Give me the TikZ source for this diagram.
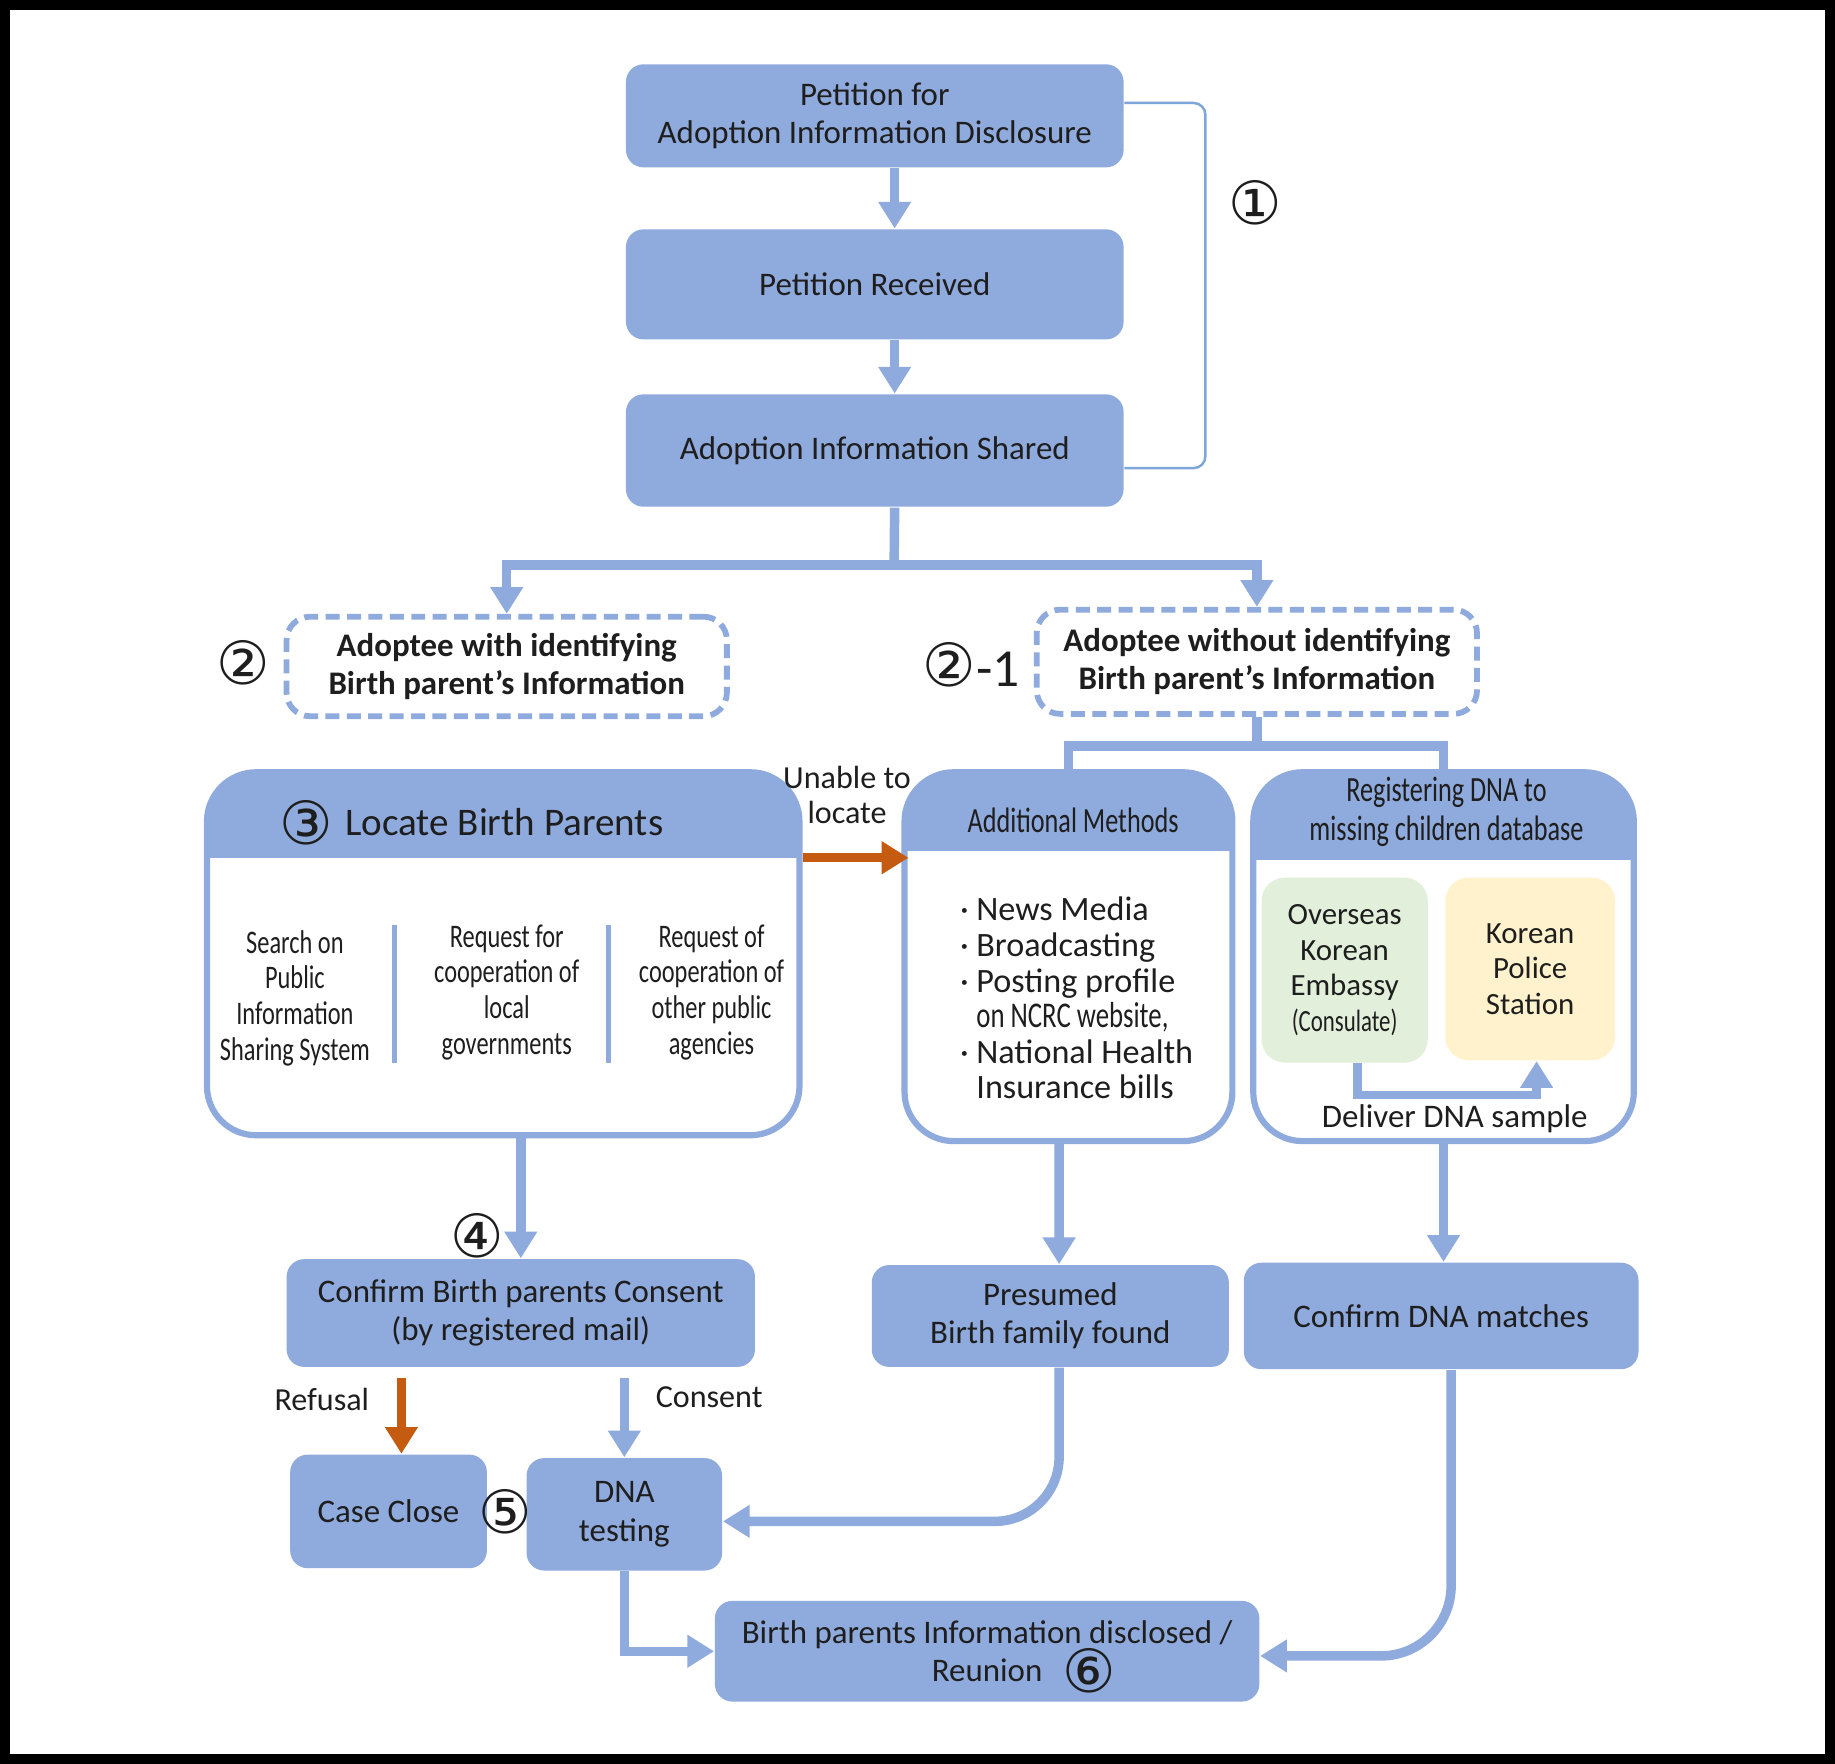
\documentclass[tikz,border=0pt]{standalone}
\usepackage{fontspec}
\setmainfont{Carlito}
\newfontfamily\narrowfont[FakeStretch=0.74]{Carlito}
\newfontfamily\symfont{DejaVu Sans}
\usetikzlibrary{positioning,calc,arrows.meta}
\definecolor{boxblue}{HTML}{8FAADC}
\definecolor{arrorange}{HTML}{C55A11}
\definecolor{embgreen}{HTML}{E2EFDA}
\definecolor{polyellow}{HTML}{FFF2CC}
\definecolor{brkblue}{HTML}{7FA6D8}
\definecolor{txt}{HTML}{1E1E1E}

\begin{document}
\begin{tikzpicture}[x=0.01cm,y=-0.01cm,
    every node/.style={text=txt},
    blok/.style={fill=boxblue, rounded corners=0.15cm, align=center, inner sep=0pt,
        font=\fontsize{8}{9.3}\selectfont},
    dashbox/.style={draw=boxblue, line width=1.4pt, dash pattern=on 3.4pt off 1.8pt,
        rounded corners=0.2cm, fill=white, align=center, inner sep=0pt,
        font=\bfseries\fontsize{8}{9.3}\selectfont},
    panel/.style={draw=boxblue, line width=1.5pt, fill=white, rounded corners=0.42cm, inner sep=0pt,
        path picture={\fill[boxblue, sharp corners] (path picture bounding box.north west)
            rectangle ([yshift=-#1]path picture bounding box.north east);}},
    soft/.style={rounded corners=0.2cm, inner sep=0pt, align=center,
        font=\fontsize{7.5}{8.6}\selectfont},
    flow/.style={draw=boxblue, line width=2.3pt, -{Triangle[length=6.5pt,width=7.6pt]}},
    oflow/.style={draw=arrorange, line width=2.3pt, -{Triangle[length=6.5pt,width=7.6pt]}},
    link/.style={draw=boxblue, line width=2.3pt},
    num/.style={font=\symfont\fontsize{14.5}{14.5}\selectfont, inner sep=0pt},
    lbl/.style={font=\fontsize{7.8}{8.4}\selectfont, align=center, inner sep=0pt},
    cols/.style={font=\narrowfont\fontsize{8}{8.7}\selectfont, align=center, inner sep=0pt},
]
    % Frame
    \fill[black] (0,0) rectangle (1568,1507);
    \fill[white] (8.5,8.5) rectangle (1559.5,1499);

    % Step 1: petition
    \node[blok, minimum width=4.25cm, minimum height=0.88cm] (pet) at (747.5,99) {Petition for\\Adoption Information Disclosure};
    \node[blok, minimum width=4.25cm, minimum height=0.94cm] (recv) at (747.5,243) {Petition Received};
    \node[blok, minimum width=4.25cm, minimum height=0.96cm] (shared) at (747.5,385) {Adoption Information Shared};
    \draw[flow] ([xshift=0.17cm]pet.south) -- ([xshift=0.17cm]recv.north);
    \draw[flow] ([xshift=0.17cm]recv.south) -- ([xshift=0.17cm]shared.north);

    \coordinate (brk) at (1030,243);
    \draw[brkblue, line width=0.6pt, rounded corners=0.1cm] ([yshift=0.11cm]pet.east) -| (brk) |- ([yshift=-0.15cm]shared.east);
    \node[num] (n1) at (1073,173) {①};

    % Step 2: two kinds of adoptee
    \node[dashbox, minimum width=3.76cm, minimum height=0.85cm] (with) at (433,569.5) {Adoptee with identifying\\Birth parent’s Information};
    \node[dashbox, minimum width=3.76cm, minimum height=0.89cm] (without) at (1074,565.5) {Adoptee without identifying\\Birth parent’s Information};
    \node[num] (n2) at (208,566) {②};
    \node[num] (n21) at (830,568) {②{\rmfamily\fontsize{13}{13}\selectfont -1}};

    \coordinate (split) at (764,483);
    \draw[link] ([xshift=0.17cm]shared.south) -- (split);
    \draw[flow] (split) -| (with.north);
    \draw[flow] (split) -| (without.north);

    % Step 3: locate birth parents
    \node[panel=0.73cm, minimum width=5.06cm, minimum height=3.10cm] (loc) at (430,815) {};
    \node[anchor=base west, inner sep=0pt, font=\fontsize{9.5}{11}\selectfont] (loctitle) at (238,714) {\smash{\raisebox{-2.2pt}{\symfont\fontsize{14.5}{14.5}\selectfont ③}}\hspace{3pt}Locate Birth Parents};
    \node[cols] (c1) at (252,853) {Search on\\Public\\Information\\Sharing System};
    \node[cols] (c2) at (433,848) {Request for\\cooperation of\\local\\governments};
    \node[cols] (c3) at (608,848) {Request of\\cooperation of\\other public\\agencies};
    \foreach \x in {337,520}
        \draw[boxblue, line width=1.2pt] (\x,790) -- (\x,908);

    % Step 2-1: other ways
    \node[panel=0.67cm, minimum width=2.80cm, minimum height=3.15cm] (addm) at (913,817.5) {};
    \node[font=\narrowfont\fontsize{8.6}{9.4}\selectfont, inner sep=0pt] (addtitle) at (917,701) {Additional Methods};
    \node[font=\fontsize{8.3}{8.65}\selectfont, align=left, inner sep=0pt] (addlist) at (920,853) {· News Media\\· Broadcasting\\· Posting profile\\\phantom{· }{\narrowfont\fontsize{8.8}{8.65}\selectfont on NCRC website,}\\· National Health\\\phantom{· }Insurance bills};

    \node[panel=0.75cm, minimum width=3.25cm, minimum height=3.15cm] (reg) at (1233.5,817.5) {};
    \node[font=\narrowfont\fontsize{8.6}{9.4}\selectfont, align=center, inner sep=0pt] (regtitle) at (1236,693.5) {Registering DNA to\\missing children database};
    \node[soft, fill=embgreen, minimum width=1.42cm, minimum height=1.58cm] (emb) at (1149,829) {Overseas\\Korean\\Embassy\\{\narrowfont (Consulate)}};
    \node[soft, fill=polyellow, minimum width=1.45cm, minimum height=1.56cm] (pol) at (1307.5,828) {Korean\\Police\\Station};
    \draw[flow, line width=2pt] ([xshift=0.11cm]emb.south) -- ++(0,27) -| ([xshift=0.055cm]pol.south);
    \node[lbl, font=\fontsize{8}{9}\selectfont] (dlv) at (1243,956) {Deliver DNA sample};

    \draw[link] (without.south) -- ++(0,25) coordinate (fork);
    \draw[link] (fork) -| (addm.north);
    \draw[link] (fork) -| (reg.north);

    \coordinate (ua) at ([yshift=0.82cm]loc.east);
    \draw[oflow, shorten >=-0.06cm] (ua) -- (ua -| addm.west) node[lbl, pos=0.45, above=0.25cm] (unable) {Unable to\\locate};

    % Step 4: consent
    \node[blok, minimum width=4.00cm, minimum height=0.92cm] (consent) at (445,1122) {Confirm Birth parents Consent\\(by registered mail)};
    \node[num] (n4) at (408,1056) {④};
    \draw[flow] (loc.south -| consent.north) -- (consent.north);
    \node[blok, minimum width=3.05cm, minimum height=0.87cm] (pres) at (897.5,1124.5) {Presumed\\Birth family found};
    \node[blok, minimum width=3.37cm, minimum height=0.91cm] (cdna) at (1231.5,1124.5) {Confirm DNA matches};
    \draw[flow] ([xshift=-0.08cm]addm.south) -- ([xshift=0.075cm]pres.north);
    \draw[flow] (reg.south) -- (reg.south |- cdna.north);

    % Step 5: close or test
    \node[blok, minimum width=1.68cm, minimum height=0.97cm] (case) at (332,1291.5) {Case Close};
    \node[blok, minimum width=1.67cm, minimum height=0.96cm] (dna) at (533.5,1294) {DNA\\testing};
    \node[num] (n5) at (432,1292) {⑤};
    \coordinate (rf) at ([xshift=0.11cm]case.north);
    \draw[oflow] (rf |- consent.south) ++(0,9) -- (rf);
    \draw[flow] (dna.north |- consent.south) ++(0,9) -- (dna.north);
    \node[lbl] (refusal) at (275,1196) {Refusal};
    \node[lbl] (agree) at (606,1194) {Consent};

    % Step 6: reunion
    \node[blok, minimum width=4.65cm, minimum height=0.86cm] (birth) at (843.5,1411) {Birth parents Information disclosed /\\\hphantom{\hspace{5pt}{\symfont\fontsize{14.5}{9}\selectfont ⑥}}Reunion\hspace{5pt}\smash{\raisebox{-2.6pt}{\symfont\fontsize{14.5}{9}\selectfont ⑥}}};
    \draw[flow, rounded corners=0.55cm] ([xshift=0.075cm]pres.south) |- ([yshift=-0.06cm]dna.east);
    \draw[flow] (dna.south) |- (birth.west);
    \draw[flow, rounded corners=0.6cm] ([xshift=0.085cm]cdna.south) |- ([yshift=-0.04cm]birth.east);
\end{tikzpicture}
\end{document}
